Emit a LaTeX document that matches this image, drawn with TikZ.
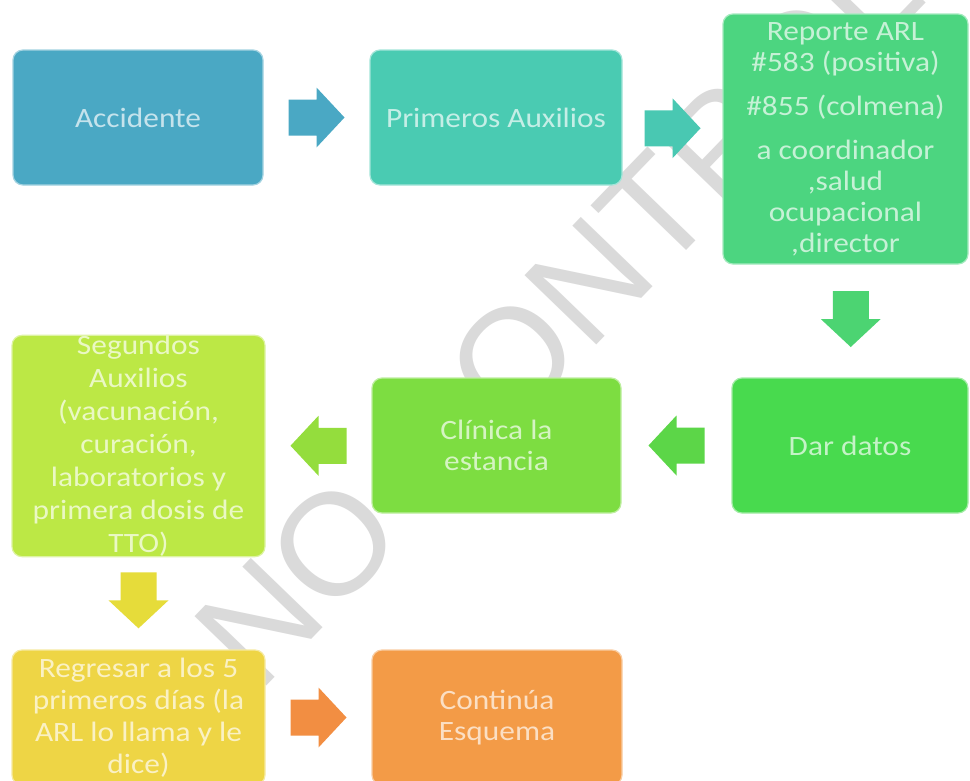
\documentclass[tikz,border=0pt]{standalone}
\usepackage{fontspec}
\setmainfont[FakeStretch=1.12]{Carlito}
\newfontfamily\wmfont{Liberation Sans}
\usetikzlibrary{calc}
\definecolor{cA}{HTML}{4AA8C4}
\definecolor{cP}{HTML}{4ACBB2}
\definecolor{cR}{HTML}{4CD580}
\definecolor{cD}{HTML}{48DA4E}
\definecolor{cC}{HTML}{7DDD41}
\definecolor{cS}{HTML}{BCE845}
\definecolor{cG}{HTML}{EED545}
\definecolor{cE}{HTML}{F39B47}
\definecolor{aA}{HTML}{4AA8C4}
\definecolor{aP}{HTML}{49C8B2}
\definecolor{aR}{HTML}{4CD472}
\definecolor{aD}{HTML}{5CD648}
\definecolor{aC}{HTML}{94DD3D}
\definecolor{aS}{HTML}{E6DC3A}
\definecolor{aG}{HTML}{F28E42}
\definecolor{wmgray}{HTML}{DADADA}
\tikzset{
  box/.style={rounded corners=10pt, draw=#1!50!white, line width=1.2pt, fill=#1,
    text=#1!32!white, align=center, inner sep=0pt,
    font=\fontsize{28}{31}\selectfont},
  barrow/.pic={\path[pic actions] (-28,-18) -- (0,-18) -- (0,-30) -- (28,0) -- (0,30) -- (0,18) -- (-28,18) -- cycle;}
}
\begin{document}
\begin{tikzpicture}[x=1pt,y=-1pt]
\useasboundingbox (0,0) rectangle (970,780);
\fill[white] (0,0) rectangle (970,780);
\node[font=\wmfont\fontsize{145}{145}\selectfont, text=wmgray, rotate=46, anchor=base west, inner sep=0pt] (wm) at (258,695) {NO CONTROLADA};

\node[box=cA, minimum width=250pt, minimum height=135pt] (A) at (138,117.5) {Accidente};
\node[box=cP, minimum width=252pt, minimum height=135pt] (P) at (496,117.5) {Primeros Auxilios};
\node[box=cR, minimum width=245pt, minimum height=250pt] (R) at (845.5,139) {Reporte ARL\\ \#583 (positiva)\\[13pt] \#855 (colmena)\\[13pt] a coordinador\\ ,salud\\ ocupacional\\ ,director};
\node[box=cD, minimum width=236pt, minimum height=135pt] (D) at (850,445.5) {Dar datos};
\node[box=cC, minimum width=249pt, minimum height=135pt] (C) at (496.5,445.5) {Clínica la\\ estancia};
\node[box=cS, minimum width=253pt, minimum height=212pt, font=\fontsize{28}{33}\selectfont] (S) at (138.5,446) {Segundos\\ Auxilios\\ (vacunación,\\ curación,\\ laboratorios y\\ primera dosis de\\ TTO)};
\node[box=cG, minimum width=253pt, minimum height=135pt, font=\fontsize{28}{32}\selectfont] (G) at (138.5,717.5) {Regresar a los 5\\ primeros días (la\\ ARL lo llama y le\\ dice)};
\node[box=cE, minimum width=250pt, minimum height=135pt] (E) at (497,717.5) {Continúa\\ Esquema};

\pic[fill=aA] at ($(A.east)!0.5!(P.west)$) {barrow};
\pic[fill=aP] at ($(P.east)!0.5!(R.west)$) {barrow};
\pic[fill=aR, rotate=-90] at ($(R.south)!0.5!(D.north)+(3,-2)$) {barrow};
\pic[fill=aD, rotate=180] at ($(D.west)!0.5!(C.east)$) {barrow};
\pic[fill=aC, rotate=180] at ($(C.west)!0.5!(S.east)$) {barrow};
\pic[fill=aS, rotate=-90] at ($(S.south)!0.5!(G.north)+(0,-3)$) {barrow};
\pic[fill=aG] at ($(G.east)!0.5!(E.west)$) {barrow};
\end{tikzpicture}
\end{document}
